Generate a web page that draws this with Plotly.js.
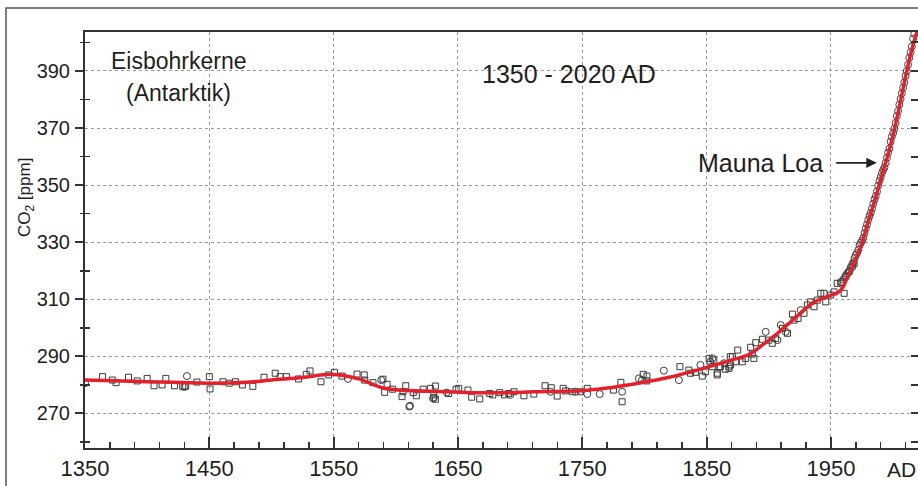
<!DOCTYPE html>
<html>
<head>
<meta charset="utf-8">
<script src="https://cdn.plot.ly/plotly-3.0.1.min.js"></script>
<style>html,body{margin:0;padding:0;background:#fff;}#chart{width:918px;height:486px;}</style>
</head>
<body>
<div id="chart"></div>
<script>
// Ice core data (squares)
const iceSqYears = [1364,1372,1375,1385,1392,1400,1405.5,1412,1415,1422,1428.6,1431,1440,1450,1450.6,1461,1466,1471,1476.6,1485,1494,1503,1507,1512,1521.7,1528,1531,1539.8,1546,1550.7,1556.7,1568.8,1574.6,1575,1581.6,1589.7,1593,1591,1597.4,1605,1605.8,1608,1614,1616.5,1622,1627.8,1631.8,1631.8,1630.5,1642.5,1648.5,1650.6,1658,1661,1667.5,1675.5,1678,1683.6,1687.4,1690.8,1695,1703,1711,1720,1725,1729.8,1734.6,1736.5,1741.9,1748.5,1754,1775,1781,1782,1799,1802,1801.7,1828.5,1835.7,1837,1841,1846.5,1849,1852,1854.5,1855.8,1858.5,1858.6,1860,1861,1865,1868,1869,1869.3,1870.7,1873.3,1875,1878.7,1881.4,1885.4,1886.7,1888,1889.5,1894.8,1900,1902.8,1905.5,1911,1915,1919,1920.3,1923.5,1928.3,1931,1933.7,1936.4,1939,1941.8,1944.4,1945.8,1949.8,1952.5,1955,1960.6,1968.6];
const iceSqCO2 = [282.9,281.7,280.8,282.7,281.4,282.3,279.7,280.0,282.3,279.7,279.4,279.6,281.0,282.9,278.6,281.1,280.6,281.1,280.0,279.5,282.7,284.1,282.9,282.9,282.1,283.7,284.9,281.1,283.5,284.4,283.1,283.8,283.5,281.7,280.8,282.0,280.2,277.4,278.5,275.9,277.6,279.7,277.3,276.2,278.5,278.8,275.0,279.6,276.5,277.0,278.5,278.8,278.2,275.7,275.1,277.0,276.5,277.3,276.5,277.0,277.6,276.2,276.8,279.7,279.0,276.1,278.8,277.9,277.6,277.6,278.8,278.2,280.9,274.1,283.7,283.1,281.4,286.4,285.2,284.1,284.4,283.1,284.6,289.3,286.4,288.7,283.5,284.1,286.4,286.4,285.5,285.8,289.9,287.0,289.9,288.1,292.2,288.1,289.3,293.2,290.8,289.3,294.8,296.0,295.7,294.6,296.3,299.8,298.1,304.8,302.7,303.3,305.1,308.0,309.1,307.4,309.7,312.1,312.1,309.1,311.5,312.6,315.6,312.1,322.6];

// Ice core data (circles)
const iceCiYears = [1350,1432,1430,1561.5,1588.3,1610.9,1611.4,1630,1630.6,1641,1692,1724.4,1744.5,1754,1764,1782,1795.5,1798,1815.6,1827.7,1845,1853,1854.6,1864,1868,1897.5,1907,1909.6,1913.6,1925.7,1958,1962,1964.7,1967.3];
const iceCiCO2 = [280.6,283.1,279.3,282.1,281.7,272.4,272.7,275.3,275.6,277.3,276.5,277.6,277.6,276.8,276.8,277.6,282.3,281.7,285.0,281.7,287.0,288.1,289.3,287.6,286.4,298.6,295.7,301.0,298.6,306.2,316.1,317.9,319.6,321.4];

// Mauna Loa (circles)
const mlYears = [1958,1959,1960,1961,1962,1963,1964,1965,1966,1967,1968,1969,1970,1971,1972,1973,1974,1975,1976,1977,1978,1979,1980,1981,1982,1983,1984,1985,1986,1987,1988,1989,1990,1991,1992,1993,1994,1995,1996,1997,1998,1999,2000,2001,2002,2003,2004,2005,2006,2007,2008,2009,2010,2011,2012,2013,2014,2015,2016,2017];
const mlCO2 = [315.5,316.0,316.9,317.6,318.4,319.0,319.6,320.1,321.3,322.1,323.0,324.5,325.5,326.2,327.3,329.0,329.8,330.5,331.5,333.2,334.8,336.2,337.8,339.2,340.3,341.8,343.5,345.0,346.2,347.8,349.8,351.5,352.8,354.2,355.3,356.2,357.8,359.6,361.4,362.8,365.2,367.0,368.3,369.8,371.8,374.2,376.0,378.2,380.2,382.2,384.1,386.0,388.2,390.0,392.2,394.6,396.5,398.5,401.3,403.0];

// Smoothed fit (red line)
const fitYears = [1350,1380,1420,1450,1480,1500,1525,1548,1570,1590,1605,1630,1660,1690,1710,1750,1770,1795,1820,1848,1870,1884,1895,1907,1920,1936,1947,1957,1960,1963,1966,1970,1975,1980,1985,1990,1995,2000,2005,2010,2015,2020];
const fitCO2 = [281.7,281.4,280.9,280.6,280.9,281.7,282.6,283.7,282.1,278.9,278.1,277.8,277.3,277.3,277.6,278.0,278.9,280.6,282.7,285.9,288.7,290.6,294.0,298.1,303.0,309.0,310.9,312.8,314.5,317.5,320.3,324.3,329.6,337.3,344.3,352.0,359.3,367.6,377.5,388.0,397.5,405.0];

const xTickVals = [1350,1450,1550,1650,1750,1850,1950];
const xTickText = ['1350','1450','1550','1650','1750','1850','1950'];

const txt = '#231f20';
const axc = '#333333';
const FONT = 'Liberation Sans, Arial, sans-serif';
const yRange = [257.9, 403.65];

const traces = [
  {x: iceSqYears, y: iceSqCO2, type: 'scatter', mode: 'markers', hoverinfo: 'skip',
   marker: {symbol: 'square-open', size: 6, color: '#3a3a3a', line: {width: 1, color: '#3a3a3a'}}},
  {x: iceCiYears, y: iceCiCO2, type: 'scatter', mode: 'markers', hoverinfo: 'skip',
   marker: {symbol: 'circle-open', size: 7, color: '#3a3a3a', line: {width: 1, color: '#3a3a3a'}}},
  {x: mlYears, y: mlCO2, type: 'scatter', mode: 'markers', hoverinfo: 'skip',
   marker: {symbol: 'circle-open', size: 7, color: '#444', line: {width: 1, color: '#444'}}},
  {x: fitYears, y: fitCO2, type: 'scatter', mode: 'lines', hoverinfo: 'skip',
   line: {color: '#e4202a', width: 3.5, shape: 'spline', smoothing: 0.8}},
  {x: [], y: [], type: 'scatter', yaxis: 'y2', hoverinfo: 'skip', showlegend: false},
  {x: [], y: [], type: 'scatter', yaxis: 'y3', hoverinfo: 'skip', showlegend: false}
];

const L = 85, T = 32, W = 833, H = 416;
const layout = {
  width: 918, height: 486,
  margin: {l: L, r: 0, t: T, b: 486 - T - H, pad: 0},
  paper_bgcolor: '#ffffff', plot_bgcolor: '#ffffff',
  showlegend: false,
  font: {family: FONT, color: txt},
  xaxis: {
    range: [1350, 2020], tickmode: 'array', tickvals: xTickVals, ticktext: xTickText,
    ticks: 'inside', ticklen: 11, tickwidth: 2, tickcolor: axc,
    showline: true, linecolor: axc, linewidth: 2, mirror: true,
    showgrid: true, gridcolor: '#9a9a9a', gridwidth: 1, griddash: '3px,3px',
    zeroline: false, tickfont: {size: 22, color: txt, family: FONT}, ticklabelstandoff: 0,
    minor: {tick0: 1350, dtick: 20, ticks: 'inside', ticklen: 6, tickwidth: 1.5, tickcolor: axc, showgrid: false}
  },
  yaxis: {
    range: yRange, tick0: 270, dtick: 20, tickmode: 'linear',
    ticks: 'outside', ticklen: 8, tickwidth: 2, tickcolor: axc,
    showline: true, linecolor: axc, linewidth: 2, mirror: true,
    showgrid: true, gridcolor: '#9a9a9a', gridwidth: 1, griddash: '3px,3px',
    zeroline: false, tickfont: {size: 20, color: txt, family: FONT}, ticklabelstandoff: 1,
    minor: {tick0: 260, dtick: 20, ticks: 'outside', ticklen: 3, tickwidth: 1.5, tickcolor: axc, showgrid: false}
  },
  yaxis2: {
    range: yRange, overlaying: 'y', side: 'right', tick0: 270, dtick: 10, tickmode: 'linear',
    ticks: 'inside', ticklen: 7, tickwidth: 2, tickcolor: axc, showticklabels: false,
    showgrid: false, zeroline: false, showline: false
  },
  yaxis3: {
    range: yRange, overlaying: 'y', side: 'left', tick0: 260, dtick: 20, tickmode: 'linear',
    ticks: 'inside', ticklen: 5, tickwidth: 1.5, tickcolor: axc, showticklabels: false,
    showgrid: false, zeroline: false, showline: false
  },
  shapes: [
    {type: 'rect', xref: 'paper', yref: 'paper', layer: 'above',
     x0: (6 - L) / W, x1: 1.2, y0: -0.3, y1: (T + H - 8) / H,
     line: {color: '#555555', width: 1.5}, fillcolor: 'rgba(0,0,0,0)'}
  ],
  annotations: [
    {x: 1425.7, y: 393.5, xref: 'x', yref: 'y', text: 'Eisbohrkerne', showarrow: false,
     font: {size: 23, color: txt, family: FONT}, xanchor: 'center', yanchor: 'middle'},
    {x: 1425.3, y: 382.3, xref: 'x', yref: 'y', text: '(Antarktik)', showarrow: false,
     font: {size: 23, color: txt, family: FONT}, xanchor: 'center', yanchor: 'middle'},
    {x: 1739.3, y: 388.9, xref: 'x', yref: 'y', text: '1350 - 2020 AD', showarrow: false,
     font: {size: 25, color: txt, family: FONT}, xanchor: 'center', yanchor: 'middle'},
    {x: 1893.3, y: 357.8, xref: 'x', yref: 'y', text: 'Mauna Loa', showarrow: false,
     font: {size: 25, color: txt, family: FONT}, xanchor: 'center', yanchor: 'middle'},
    {x: 1986.8, y: 357.8, xref: 'x', yref: 'y', text: '', showarrow: true,
     ax: -42, ay: 0, axref: 'pixel', ayref: 'pixel', arrowhead: 2, arrowsize: 1.3,
     arrowwidth: 1.6, arrowcolor: txt, standoff: 0, startstandoff: 0},
    {x: (901 - L) / W, y: (T + H - 469) / H, xref: 'paper', yref: 'paper', text: 'AD', showarrow: false,
     font: {size: 21, color: txt, family: FONT}, xanchor: 'center', yanchor: 'middle'},
    {x: (26 - L) / W, y: (T + H - 198) / H, xref: 'paper', yref: 'paper',
     text: 'CO<sub>2</sub> [ppm]', textangle: -90, showarrow: false,
     font: {size: 17, color: txt, family: FONT}, xanchor: 'center', yanchor: 'middle'}
  ]
};

Plotly.newPlot('chart', traces, layout, {staticPlot: true, displayModeBar: false});
</script>
</body>
</html>
